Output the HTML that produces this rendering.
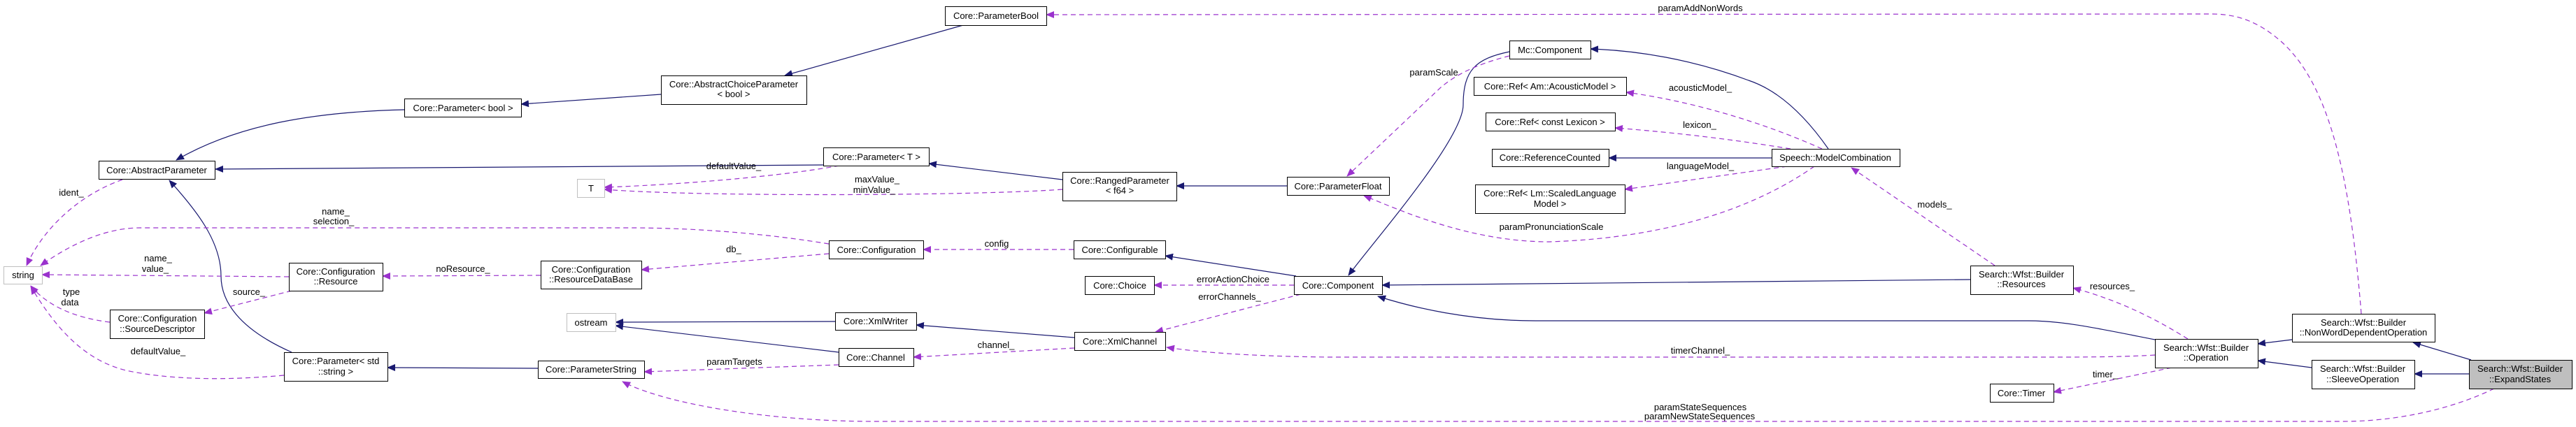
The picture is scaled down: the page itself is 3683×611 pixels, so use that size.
<!DOCTYPE html>
<html><head><meta charset="utf-8"><style>
html,body{margin:0;padding:0;background:#fff;}
svg{display:block;}
text{font-family:"Liberation Sans",Arial,sans-serif;font-size:13px;fill:#000;}
.n{fill:#fff;stroke:#000;stroke-width:1;}
.g{fill:#fff;stroke:#bfbfbf;stroke-width:1;}
.s{fill:none;stroke:#191970;stroke-width:1.2;}
.d{fill:none;stroke:#9a32cd;stroke-width:1.2;stroke-dasharray:7,5;}
</style></head><body>
<svg width="3683" height="611" viewBox="0 0 3683 611" xmlns="http://www.w3.org/2000/svg">
<defs>
<marker id="as" markerWidth="12" markerHeight="10" refX="11" refY="5" orient="auto" markerUnits="userSpaceOnUse"><path d="M0,0 L12,5 L0,10 z" fill="#191970"/></marker>
<marker id="ad" markerWidth="12" markerHeight="10" refX="11" refY="5" orient="auto" markerUnits="userSpaceOnUse"><path d="M0,0 L12,5 L0,10 z" fill="#9a32cd"/></marker>
</defs>

<path class="s" marker-end="url(#as)" d="M578,157 C450,160 340,178 252,229"/>
<path class="s" marker-end="url(#as)" d="M1177,236 L308,242"/>
<path class="s" marker-end="url(#as)" d="M417,504 C340,470 316,430 316,395 C316,345 280,300 242,258"/>
<path class="s" marker-end="url(#as)" d="M945,135 L745,149"/>
<path class="s" marker-end="url(#as)" d="M1377,36 L1122,108"/>
<path class="s" marker-end="url(#as)" d="M1519,257 L1328,234"/>
<path class="s" marker-end="url(#as)" d="M1840,266 L1682,266"/>
<path class="s" marker-end="url(#as)" d="M769,527 L554,526"/>
<path class="s" marker-end="url(#as)" d="M1194,460 L880,461"/>
<path class="s" marker-end="url(#as)" d="M1199,504 L880,466"/>
<path class="s" marker-end="url(#as)" d="M1536,483 L1310,465"/>
<path class="s" marker-end="url(#as)" d="M1853,395 L1666,366"/>
<path class="s" marker-end="url(#as)" d="M2158,74 C2110,84 2092,100 2092,150 C2092,200 1960,350 1928,394"/>
<path class="s" marker-end="url(#as)" d="M2614,213 C2570,150 2530,125 2500,115 C2420,85 2340,72 2274,70"/>
<path class="s" marker-end="url(#as)" d="M2533,226 L2300,226"/>
<path class="s" marker-end="url(#as)" d="M2817,400 L1976,408"/>
<path class="s" marker-end="url(#as)" d="M3081,486 C3000,470 2950,459 2900,459 L2195,459 C2100,459 2020,440 1970,424"/>
<path class="s" marker-end="url(#as)" d="M3277,486 L3228,492"/>
<path class="s" marker-end="url(#as)" d="M3305,526 L3228,516"/>
<path class="s" marker-end="url(#as)" d="M3533,515 L3450,490"/>
<path class="s" marker-end="url(#as)" d="M3530,535 L3452,535"/>

<path class="d" marker-end="url(#ad)" d="M175,257 C110,280 60,330 38,380"/>
<path class="d" marker-end="url(#ad)" d="M1185,349 C1100,335 1000,326 900,326 L200,326 C150,326 100,350 58,380"/>
<path class="d" marker-end="url(#ad)" d="M413,396 L60,393"/>
<path class="d" marker-end="url(#ad)" d="M157,461 C110,455 70,440 44,409"/>
<path class="d" marker-end="url(#ad)" d="M406,537 C320,545 240,543 180,530 C120,515 80,470 44,410"/>
<path class="d" marker-end="url(#ad)" d="M417,416 L292,448"/>
<path class="d" marker-end="url(#ad)" d="M773,394 L547,395"/>
<path class="d" marker-end="url(#ad)" d="M1185,363 L917,386"/>
<path class="d" marker-end="url(#ad)" d="M1200,237 C1100,255 950,265 864,268"/>
<path class="d" marker-end="url(#ad)" d="M1519,271 C1400,280 1000,282 864,271"/>
<path class="d" marker-end="url(#ad)" d="M1535,357 L1320,357"/>
<path class="d" marker-end="url(#ad)" d="M1850,408 L1650,408"/>
<path class="d" marker-end="url(#ad)" d="M1860,421 L1652,475"/>
<path class="d" marker-end="url(#ad)" d="M1536,498 L1306,511"/>
<path class="d" marker-end="url(#ad)" d="M1199,522 L921,532"/>
<path class="d" marker-end="url(#ad)" d="M3566,556 C3500,588 3420,603 3350,603 L1250,603 C1100,603 950,578 890,546"/>
<path class="d" marker-end="url(#ad)" d="M3081,508 C3050,510 3000,511 2950,511 L1900,511 C1800,510 1720,505 1668,497"/>
<path class="d" marker-end="url(#ad)" d="M3105,526 L2936,561"/>
<path class="d" marker-end="url(#ad)" d="M3128,485 C3080,455 3030,430 2964,412"/>
<path class="d" marker-end="url(#ad)" d="M2852,380 L2647,240"/>
<path class="d" marker-end="url(#ad)" d="M3376,449 C3360,250 3330,120 3261,59 C3230,32 3200,20 3162,20 L1496,21"/>
<path class="d" marker-end="url(#ad)" d="M2158,80 C2110,92 2080,108 2060,125 L1926,252"/>
<path class="d" marker-end="url(#ad)" d="M2594,238 C2520,290 2400,340 2215,346 C2100,346 2000,300 1950,280"/>
<path class="d" marker-end="url(#ad)" d="M2605,213 C2520,175 2420,145 2325,132"/>
<path class="d" marker-end="url(#ad)" d="M2560,213 C2480,200 2400,190 2309,183"/>
<path class="d" marker-end="url(#ad)" d="M2555,238 L2323,271"/>

<g text-anchor="middle">
<text x="102" y="280">ident_</text>
<text x="480" y="307">name_</text><text x="477" y="321">selection_</text>
<text x="226" y="374">name_</text><text x="222" y="389">value_</text>
<text x="102" y="422">type</text><text x="100" y="437">data</text>
<text x="226" y="507">defaultValue_</text>
<text x="356" y="422">source_</text>
<text x="662" y="389">noResource_</text>
<text x="1049" y="361">db_</text>
<text x="1049" y="242">defaultValue_</text>
<text x="1254" y="261">maxValue_</text><text x="1250" y="276">minValue_</text>
<text x="1425" y="353">config</text>
<text x="1763" y="404">errorActionChoice</text>
<text x="1758" y="429">errorChannels_</text>
<text x="1424" y="498">channel_</text>
<text x="1050" y="522">paramTargets</text>
<text x="2431" y="587">paramStateSequences</text><text x="2430" y="600">paramNewStateSequences</text>
<text x="2431" y="506">timerChannel_</text>
<text x="3010" y="540">timer_</text>
<text x="3020" y="414">resources_</text>
<text x="2766" y="297">models_</text>
<text x="2431" y="16">paramAddNonWords</text>
<text x="2050" y="108">paramScale</text>
<text x="2218" y="329">paramPronunciationScale</text>
<text x="2431" y="130">acousticModel_</text>
<text x="2430" y="183">lexicon_</text>
<text x="2431" y="242">languageModel_</text>
</g>

<g>
<rect class="g" x="5.5" y="381.5" width="55" height="25"/>
<rect class="g" x="825.5" y="256.5" width="39" height="26"/>
<rect class="g" x="810.5" y="448.5" width="70" height="26"/>
<rect class="n" x="141.5" y="230.5" width="166" height="26"/>
<rect class="n" x="578.5" y="141.5" width="167" height="26"/>
<rect class="n" x="945.5" y="108.5" width="208" height="41"/>
<rect class="n" x="1351.5" y="9.5" width="145" height="27"/>
<rect class="n" x="1177.5" y="211.5" width="151" height="26"/>
<rect class="n" x="1519.5" y="246.5" width="163" height="41"/>
<rect class="n" x="1840.5" y="253.5" width="146" height="26"/>
<rect class="n" x="1185.5" y="344.5" width="135" height="26"/>
<rect class="n" x="773.5" y="373.5" width="144" height="40"/>
<rect class="n" x="413.5" y="376.5" width="134" height="40"/>
<rect class="n" x="157.5" y="443.5" width="135" height="41"/>
<rect class="n" x="406.5" y="504.5" width="148" height="41"/>
<rect class="n" x="769.5" y="516.5" width="152" height="25"/>
<rect class="n" x="1194.5" y="447.5" width="116" height="25"/>
<rect class="n" x="1199.5" y="498.5" width="107" height="26"/>
<rect class="n" x="1535.5" y="344.5" width="131" height="26"/>
<rect class="n" x="1551.5" y="395.5" width="99" height="26"/>
<rect class="n" x="1536.5" y="475.5" width="130" height="26"/>
<rect class="n" x="1850.5" y="395.5" width="126" height="26"/>
<rect class="n" x="2158.5" y="58.5" width="116" height="26"/>
<rect class="n" x="2107.5" y="110.5" width="218" height="26"/>
<rect class="n" x="2124.5" y="161.5" width="185" height="26"/>
<rect class="n" x="2133.5" y="213.5" width="167" height="25"/>
<rect class="n" x="2109.5" y="264.5" width="214" height="41"/>
<rect class="n" x="2533.5" y="213.5" width="183" height="25"/>
<rect class="n" x="2817.5" y="380.5" width="147" height="41"/>
<rect class="n" x="2845.5" y="549.5" width="91" height="26"/>
<rect class="n" x="3081.5" y="485.5" width="147" height="41"/>
<rect class="n" x="3277.5" y="449.5" width="204" height="40"/>
<rect class="n" x="3305.5" y="515.5" width="147" height="41"/>
<rect x="3530.5" y="515.5" width="147" height="41" fill="#bfbfbf" stroke="#000"/>
</g>
<g text-anchor="middle">
<text x="33" y="398">string</text>
<text x="845" y="274">T</text>
<text x="845" y="466">ostream</text>
<text x="224" y="248">Core::AbstractParameter</text>
<text x="662" y="159">Core::Parameter&lt; bool &gt;</text>
<text x="1049" y="125">Core::AbstractChoiceParameter</text><text x="1049" y="139">&lt; bool &gt;</text>
<text x="1424" y="27">Core::ParameterBool</text>
<text x="1253" y="229">Core::Parameter&lt; T &gt;</text>
<text x="1601" y="263">Core::RangedParameter</text><text x="1601" y="277">&lt; f64 &gt;</text>
<text x="1913" y="271">Core::ParameterFloat</text>
<text x="1253" y="362">Core::Configuration</text>
<text x="845" y="390">Core::Configuration</text><text x="845" y="404">::ResourceDataBase</text>
<text x="480" y="393">Core::Configuration</text><text x="480" y="407">::Resource</text>
<text x="225" y="460">Core::Configuration</text><text x="225" y="475">::SourceDescriptor</text>
<text x="480" y="521">Core::Parameter&lt; std</text><text x="480" y="536">::string &gt;</text>
<text x="845" y="533">Core::ParameterString</text>
<text x="1252" y="464">Core::XmlWriter</text>
<text x="1252" y="516">Core::Channel</text>
<text x="1601" y="362">Core::Configurable</text>
<text x="1601" y="413">Core::Choice</text>
<text x="1601" y="493">Core::XmlChannel</text>
<text x="1913" y="413">Core::Component</text>
<text x="2216" y="76">Mc::Component</text>
<text x="2216" y="128">Core::Ref&lt; Am::AcousticModel &gt;</text>
<text x="2216" y="179">Core::Ref&lt; const Lexicon &gt;</text>
<text x="2216" y="230">Core::ReferenceCounted</text>
<text x="2216" y="281">Core::Ref&lt; Lm::ScaledLanguage</text><text x="2216" y="296">Model &gt;</text>
<text x="2624" y="230">Speech::ModelCombination</text>
<text x="2890" y="397">Search::Wfst::Builder</text><text x="2890" y="411">::Resources</text>
<text x="2890" y="567">Core::Timer</text>
<text x="3154" y="502">Search::Wfst::Builder</text><text x="3154" y="516">::Operation</text>
<text x="3379" y="466">Search::Wfst::Builder</text><text x="3379" y="480">::NonWordDependentOperation</text>
<text x="3378" y="532">Search::Wfst::Builder</text><text x="3378" y="547">::SleeveOperation</text>
<text x="3603" y="532">Search::Wfst::Builder</text><text x="3603" y="547">::ExpandStates</text>
</g>
</svg>
</body></html>
